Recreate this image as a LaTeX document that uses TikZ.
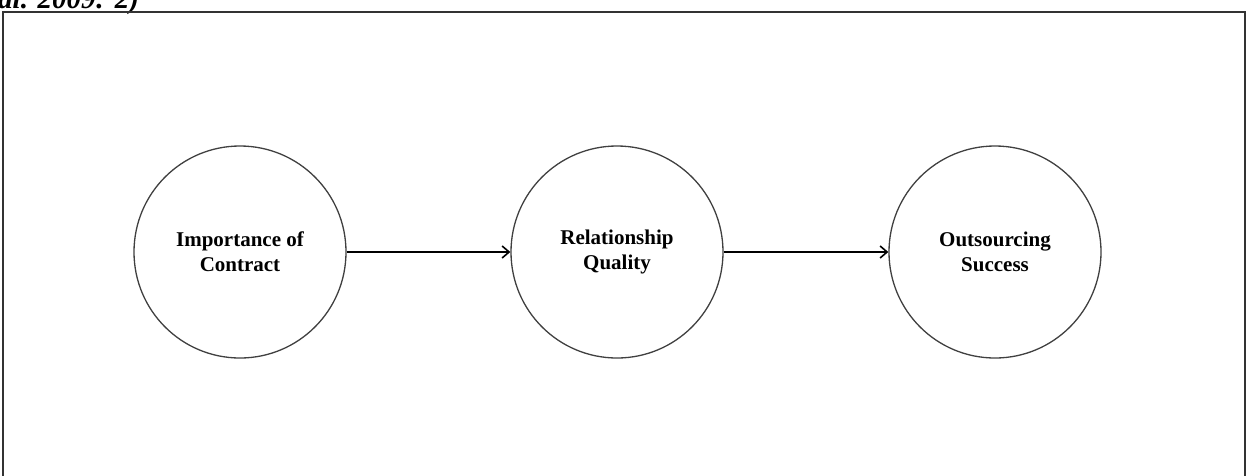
\documentclass[tikz,border=0pt]{standalone}
\usepackage{fontspec}
\setmainfont{Liberation Serif}
\usetikzlibrary{arrows.meta}
\begin{document}
\begin{tikzpicture}[x=1pt,y=-1pt,
  concept/.style={circle, draw=black!75, line width=1.3pt, minimum size=212pt, inner sep=0pt,
    align=center, font=\fontsize{21}{25}\selectfont\bfseries},
  link/.style={draw=black, -{Straight Barb[length=7pt,width=12pt,line width=1.6pt]}},
  frame/.style={draw=black!80, line width=2.5pt}]
\useasboundingbox (0,0) rectangle (1248,475);
\clip (0,0) rectangle (1248,475);
\fill[white] (0,0) rectangle (1248,475);
\node[anchor=base west, inner sep=0pt, font=\fontsize{29}{33}\selectfont\bfseries\itshape] (hdr) at (-2,8) {al. 2009: 2)};
\draw[frame] (3,490) -- (3,12) -- (1245,12) -- (1245,490);
\node[concept] (a) at (240,252) {Importance of\\Contract};
\node[concept] (b) at (617,252) {Relationship\\Quality};
\node[concept] (c) at (995,252) {Outsourcing\\Success};
\draw[link, line width=1.6pt] (a.east) -- (b.west);
\draw[link, line width=2.4pt] (b.east) -- (c.west);
\end{tikzpicture}
\end{document}
